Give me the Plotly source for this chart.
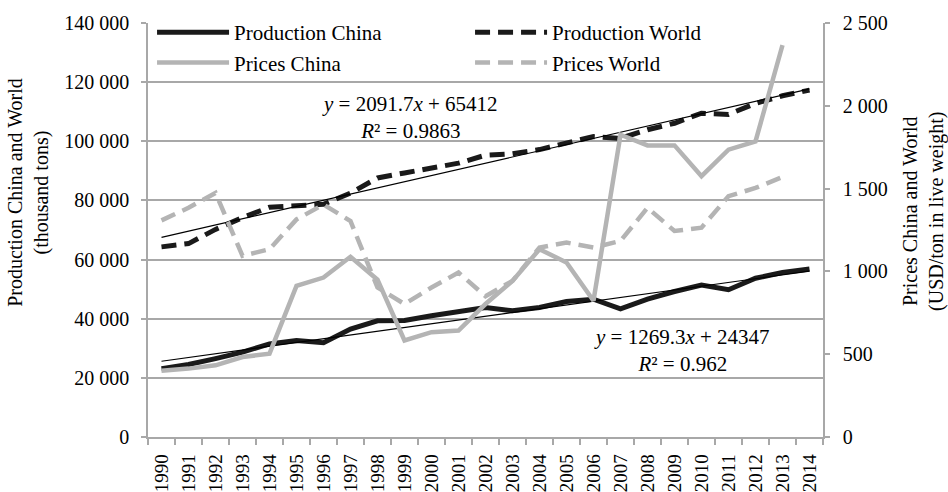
import plotly.graph_objects as go

years = [str(y) for y in range(1990, 2015)]

prod_china = [23100, 24500, 26500, 28700, 31500, 32600, 31900, 36500, 39300, 39400,
              41000, 42400, 43800, 42700, 43800, 45800, 46600, 43300, 46600, 49200,
              51400, 49800, 53700, 55600, 56800]
prod_world = [64300, 65400, 70200, 74200, 77700, 78400, 78700, 82500, 87600, 89300,
              91000, 92600, 95300, 95800, 97200, 99400, 101600, 101000, 103900, 106100,
              109500, 109100, 112800, 115400, 117300]
price_china = [400, 413, 433, 483, 503, 913, 963, 1088, 950, 583,
               633, 643, 803, 943, 1134, 1054, 823, 1825, 1761, 1761,
               1575, 1735, 1785, 2366, None]
price_world = [1308, 1384, 1474, 1094, 1134, 1314, 1404, 1304, 903, 803,
               903, 993, 850, 943, 1144, 1174, 1144, 1184, 1384, 1244,
               1264, 1454, 1504, 1570, None]

trend_world = (2091.7, 65412, 0.9863)
trend_china = (1269.3, 24347, 0.962)

FONT = "Liberation Serif"
BLACK = "#1a1a1a"
GRAY = "#b4b4b4"
GRID = "#a8a8a8"

fig = go.Figure()
fig.add_trace(go.Scatter(x=years, y=prod_china, name="Production China", mode="lines",
                         line=dict(color=BLACK, width=5)))
fig.add_trace(go.Scatter(x=years, y=prod_world, name="Production World", mode="lines",
                         line=dict(color=BLACK, width=5, dash="15px,8px")))
fig.add_trace(go.Scatter(x=years, y=price_china, name="Prices China", mode="lines",
                         line=dict(color=GRAY, width=4.5), yaxis="y2"))
fig.add_trace(go.Scatter(x=years, y=price_world, name="Prices World", mode="lines",
                         line=dict(color=GRAY, width=4.5, dash="15px,8px"), yaxis="y2"))

for a, b, r2 in (trend_world, trend_china):
    fig.add_trace(go.Scatter(x=years, y=[a * (i + 1) + b for i in range(len(years))],
                             mode="lines", showlegend=False, hoverinfo="skip",
                             line=dict(color="black", width=1.2)))

def eq(a, b, r2):
    return f"<i>y</i> = {a}<i>x</i> + {b}<br><i>R</i>² = {r2}"

ann_font = dict(family=FONT, size=21, color="black")
fig.add_annotation(text=eq(*trend_world), xref="paper", yref="paper", x=0.388, y=0.772,
                   xanchor="center", yanchor="middle", showarrow=False, font=ann_font)
fig.add_annotation(text=eq(*trend_china), xref="paper", yref="paper", x=0.791, y=0.209,
                   xanchor="center", yanchor="middle", showarrow=False, font=ann_font)

# axis titles
fig.add_annotation(text="Production China and World<br>(thousand tons)", textangle=-90,
                   xref="paper", yref="paper", x=-0.177, y=0.591,
                   xanchor="center", yanchor="middle", showarrow=False,
                   font=dict(family=FONT, size=20, color="black"))
fig.add_annotation(text="Prices China and World<br>(USD/ton in live weight)", textangle=-90,
                   xref="paper", yref="paper", x=1.1496, y=0.546,
                   xanchor="center", yanchor="middle", showarrow=False,
                   font=dict(family=FONT, size=20, color="black"))

fig.update_layout(
    width=948, height=492,
    margin=dict(l=148, r=125, t=21, b=55),
    paper_bgcolor="white", plot_bgcolor="white",
    font=dict(family=FONT, size=20, color="black"),
    separators=". ",
    showlegend=True,
    legend=dict(orientation="h", x=0.006, y=1.0264, xanchor="left", yanchor="top",
                entrywidth=231, entrywidthmode="pixels", itemwidth=72,
                font=dict(family=FONT, size=21, color="black"),
                bgcolor="rgba(0,0,0,0)", traceorder="normal"),
    xaxis=dict(type="category", range=[-0.5, 24.5], tickson="boundaries", automargin=False,
               ticks="outside", ticklen=6, tickcolor=GRID, tickwidth=1.5,
               showline=True, linecolor=GRID, linewidth=1.5, showgrid=False,
               tickangle=-90, ticklabelstandoff=8, tickfont=dict(family=FONT, size=19)),
    yaxis=dict(range=[0, 140000], dtick=20000, tickformat=",d", automargin=False,
               showgrid=True, gridcolor=GRID, gridwidth=1.5,
               showline=True, linecolor=GRID, linewidth=1.5,
               ticks="outside", ticklen=5, tickcolor=GRID, tickwidth=1.5,
               ticklabelstandoff=8,
               tickfont=dict(family=FONT, size=20), zeroline=False),
    yaxis2=dict(range=[0, 2500], dtick=500, tickformat=",d", overlaying="y", side="right",
                automargin=False,
                showgrid=False, showline=True, linecolor=GRID, linewidth=1.5,
                ticks="outside", ticklen=5, tickcolor=GRID, tickwidth=1.5,
                ticklabelstandoff=9,
                tickfont=dict(family=FONT, size=20), zeroline=False),
)

fig.write_html("out.html")
